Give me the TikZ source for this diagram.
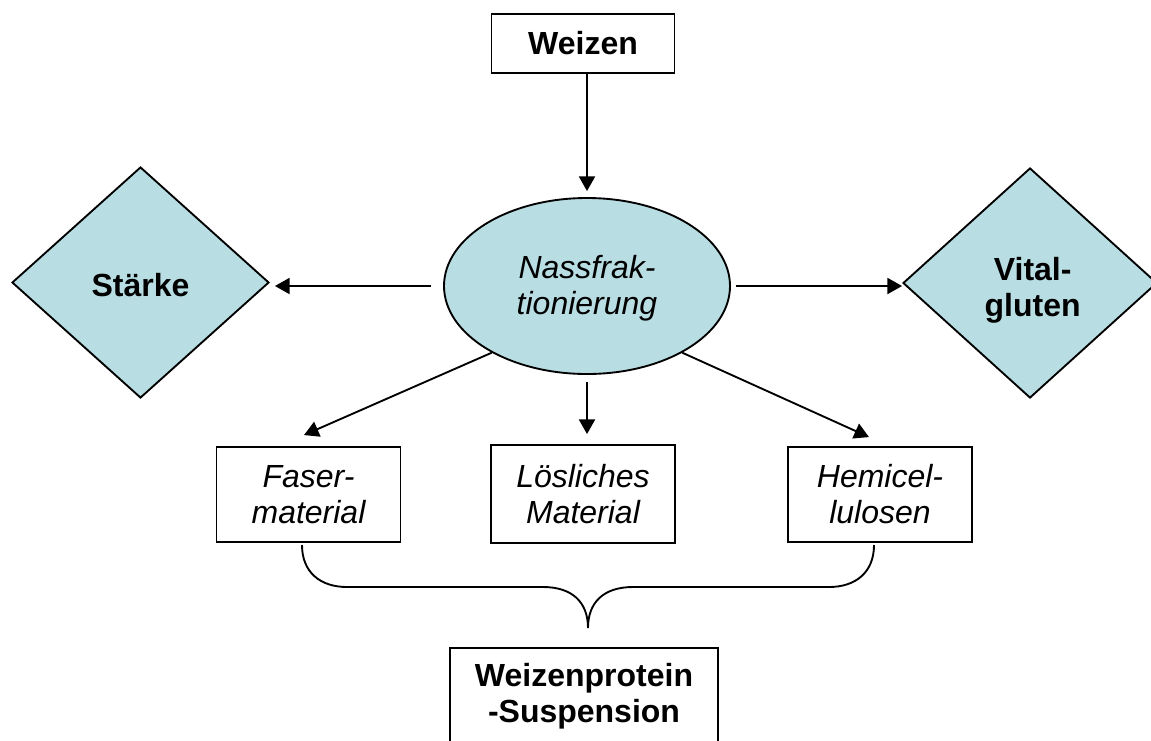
\documentclass[tikz,border=0pt]{standalone}
\usepackage{fontspec}
\setmainfont{Liberation Sans}
\usetikzlibrary{shapes.geometric,arrows.meta}
\definecolor{fillc}{HTML}{B8DEE3}
\newcommand\lowertext[2]{\raisebox{-#1}[\height][\depth]{\begin{tabular}{@{}c@{}}#2\end{tabular}}}
\begin{document}
\begin{tikzpicture}[x=0.75pt,y=-0.75pt,
  every node/.style={font=\fontsize{24pt}{27pt}\selectfont, align=center, inner sep=0pt, line width=1.4pt},
  box/.style={draw, rectangle},
  bbox/.style={box, font=\fontsize{24pt}{27pt}\selectfont\bfseries},
  ibox/.style={box, font=\fontsize{24pt}{27pt}\selectfont\itshape},
  dia/.style={draw, diamond, fill=fillc, font=\fontsize{24pt}{27pt}\selectfont\bfseries},
  arr/.style={-{Triangle[length=11pt,width=12pt]}, line width=1.4pt},
  bracestyle/.style={line width=1.4pt},
  ]
\useasboundingbox (0,0) rectangle (1151,740);

\node[bbox, minimum width=137.25pt, minimum height=44.25pt] (weizen) at (583,43.5) {Weizen};
\node[draw, ellipse, fill=fillc, minimum width=214.5pt, minimum height=132pt,
      font=\fontsize{24pt}{27pt}\selectfont\itshape] (nass) at (587,286) {\lowertext{2.5pt}{Nassfrak-\\tionierung}};
\node[dia, minimum width=192.75pt, minimum height=173.25pt] (staerke) at (140.5,282.5) {\lowertext{5pt}{Stärke}};
\node[dia, minimum width=190.5pt, minimum height=172.5pt] (vital) at (1030,283) {\lowertext{6.5pt}{\hspace*{4pt}Vital-\\\hspace*{4pt}gluten}};
\node[ibox, minimum width=138pt, minimum height=71.25pt] (faser) at (308.5,494.5) {Faser-\\material};
\node[ibox, minimum width=138pt, minimum height=73.5pt] (loes) at (583,494) {Lösliches\\Material};
\node[ibox, minimum width=138pt, minimum height=71.25pt] (hemi) at (880,494.5) {Hemicel-\\lulosen};
\node[bbox, minimum width=201pt, minimum height=72pt] (susp) at (584,696) {Weizenprotein\\-Suspension};

\draw[arr, shorten >=4.5pt] (weizen.south -| nass.north) -- (nass.north);
\draw[arr, shorten <=9pt, shorten >=3.75pt] (nass.west) -- (nass.west -| staerke.east);
\draw[arr, shorten <=3.75pt] (nass.east) -- (nass.east -| vital.west);
\draw[arr] (nass.215) -- ([xshift=-3.4pt,yshift=8.25pt]faser.north);
\draw[arr, shorten <=5.25pt, shorten >=7.5pt] (nass.south) -- (nass.south |- loes.north);
\draw[arr] (nass.325) -- ([xshift=-8.25pt,yshift=6.75pt]hemi.north);

\coordinate (bl) at (302,545);
\coordinate (br) at (874,545);
\coordinate (btip) at (588,628);
\draw[bracestyle] (bl) .. controls (302,572) and (320,587) .. (347,587) -- (543,587)
  .. controls (572,587) and (588,602) .. (btip)
  .. controls (588,602) and (604,587) .. (633,587) -- (829,587)
  .. controls (856,587) and (874,572) .. (br);
\end{tikzpicture}
\end{document}
